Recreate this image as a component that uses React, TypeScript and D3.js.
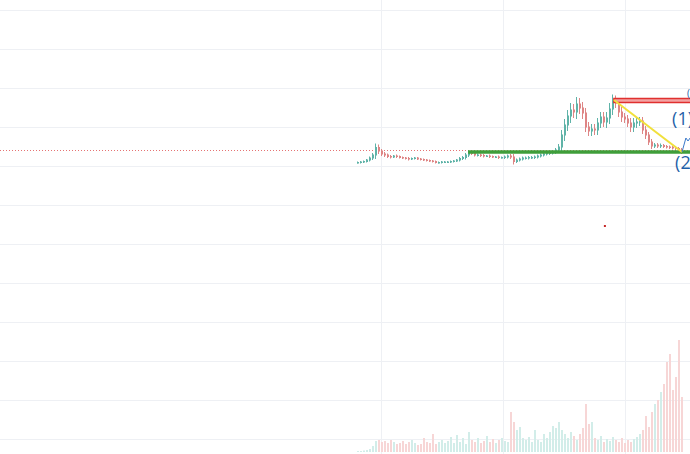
import React, { useEffect, useState } from 'react';
import * as d3 from 'd3';

// bar index -> close price (arbitrary price units)
const closes = [
  276.5, 277, 277.5, 279, 281, 284, 291.5, 288, 285, 284, 282.5, 282, 283, 282.5, 281.5, 281,
  280.5, 280, 280.5, 281, 280, 279.5, 279, 278.5, 278, 277.5, 276.5, 276.5, 277, 277, 277, 277.5,
  278, 279, 280.5, 281.5, 284, 286.5, 285.5, 284, 284, 283.5, 283, 283, 282.5, 282, 282, 281.5,
  281.5, 282, 283, 282, 277.5, 279, 280, 281, 281, 281.5, 281.5, 282, 283, 284, 285, 285.5,
  286, 287, 289, 292, 304, 314, 323, 329, 327, 335, 331, 326, 312, 308, 310, 309,
  316, 322, 317, 321, 330, 338.5, 336, 327, 322, 320, 316, 312, 316, 317, 318, 309,
  304, 297, 293, 294, 293, 293.5, 292.5, 292, 291.5, 291, 290.5, 289, 287,
];

// wick extension beyond the body, per bar
const wicks = [
  1, 1, 1, 1, 1.5, 2, 4, 3, 2, 2, 1.5, 1.5, 1, 1.5, 1, 1,
  1, 1.5, 1, 1, 1, 1, 1, 1, 1, 1, 1, 1, 1, 1, 1, 1,
  1, 1, 1.5, 1.5, 2, 2, 1.5, 1.5, 1.5, 1.5, 1.5, 1, 1.5, 1, 1, 1.5,
  1, 1.5, 1.5, 2, 3, 1.5, 1.5, 1.5, 1.5, 1.5, 1.5, 1.5, 1.5, 1.5, 1.5, 1.5,
  1.5, 1.5, 2, 3, 5, 6, 6, 7, 6, 7, 6, 6, 5, 5, 5, 5,
  5, 5, 5, 6, 6, 6, 5, 5, 5, 4, 4, 5, 5, 5, 4, 4,
  4, 3, 3, 2, 2, 2, 1.5, 1.5, 1.5, 1.5, 1.5, 1.5, 2,
];

const volumes = [
  1, 1, 1.5, 2, 3, 6, 11, 12, 10, 11, 9, 12, 10, 8, 9, 11,
  8, 10, 12, 9, 7, 8, 14, 10, 9, 18, 8, 10, 12, 9, 11, 15,
  9, 17, 10, 14, 8, 20, 12, 10, 14, 9, 11, 16, 10, 13, 9, 12,
  14, 11, 10, 40, 30, 22, 25, 14, 12, 15, 10, 22, 12, 10, 18, 14,
  20, 26, 24, 30, 22, 18, 14, 20, 16, 12, 18, 24, 48, 28, 30, 14,
  12, 16, 10, 13, 11, 15, 12, 10, 14, 9, 12, 10, 13, 15, 18, 22,
  36, 25, 40, 48, 52, 60, 68, 90, 98, 62, 75, 112, 55,
];

const priceTicks = [0, 39, 78, 117, 156, 195, 234, 273, 312, 351, 390, 429];
const timeTicks = [7.7, 48.3, 89];

const lastPrice = 289;
const supportLevel = 287;
const supportStart = 36.7;
const resistTop = 340.5;
const resistBottom = 336.5;
const resistStart = 85.3;
const trendLine = [
  { bar: 85.3, price: 339 },
  { bar: 108, price: 287 },
];
const projection = [
  { bar: 108, price: 287 },
  { bar: 109.3, price: 301 },
  { bar: 110, price: 298 },
  { bar: 110.7, price: 301 },
];
const waveLabels = [
  { text: '(1)', bar: 104.7, price: 314 },
  { text: '(2)', bar: 105.7, price: 270 },
];
const stray = { bar: 82.3, price: 213 };

const W = 690;
const H = 454;

const App: React.FC = () => {
  const [svgRef, setSvgRef] = useState<SVGSVGElement | null>(null);

  useEffect(() => {
    document.body.style.margin = '0';
    if (!svgRef) return;
    const svg = d3.select(svgRef);
    svg.selectAll('*').remove();

    const x = d3.scaleLinear().domain([0, 108]).range([358, 682]);
    const y = d3.scaleLinear().domain([0, 429]).range([439, 10]);
    const yVol = d3.scaleLinear().domain([0, 100]).range([452, 352]);

    svg.append('rect').attr('width', W).attr('height', H).attr('fill', '#ffffff');

    // grid
    svg.append('g')
      .selectAll('line')
      .data(priceTicks)
      .enter()
      .append('line')
      .attr('x1', 0)
      .attr('x2', W)
      .attr('y1', d => y(d) + 0.5)
      .attr('y2', d => y(d) + 0.5)
      .attr('stroke', '#eef0f4')
      .attr('stroke-width', 1);

    svg.append('g')
      .selectAll('line')
      .data(timeTicks)
      .enter()
      .append('line')
      .attr('x1', d => Math.round(x(d)) + 0.5)
      .attr('x2', d => Math.round(x(d)) + 0.5)
      .attr('y1', 0)
      .attr('y2', H)
      .attr('stroke', '#eef0f4')
      .attr('stroke-width', 1);

    const bars = closes.map((c, i) => {
      const open = i === 0 ? c : closes[i - 1];
      return {
        i,
        open,
        close: c,
        high: Math.max(open, c) + wicks[i],
        low: Math.min(open, c) - wicks[i],
        vol: volumes[i],
      };
    });

    const upCol = '#5fb3a8';
    const downCol = '#de8585';

    // volume
    svg.append('g')
      .selectAll('rect')
      .data(bars)
      .enter()
      .append('rect')
      .attr('x', d => x(d.i) - 1)
      .attr('width', 2)
      .attr('y', d => yVol(d.vol))
      .attr('height', d => yVol(0) - yVol(d.vol))
      .attr('fill', d => (d.close >= d.open ? '#d2ede9' : '#f7d6d6'));

    // last price dotted line
    svg.append('line')
      .attr('x1', 0)
      .attr('x2', W)
      .attr('y1', y(lastPrice) + 0.5)
      .attr('y2', y(lastPrice) + 0.5)
      .attr('stroke', '#e57373')
      .attr('stroke-width', 1)
      .attr('stroke-dasharray', '1 2');

    // wicks
    svg.append('g')
      .selectAll('line')
      .data(bars)
      .enter()
      .append('line')
      .attr('x1', d => x(d.i) - 0.5)
      .attr('x2', d => x(d.i) - 0.5)
      .attr('y1', d => y(d.high))
      .attr('y2', d => y(d.low))
      .attr('stroke', d => (d.close >= d.open ? upCol : downCol))
      .attr('stroke-width', 1);

    // candles
    svg.append('g')
      .selectAll('rect')
      .data(bars)
      .enter()
      .append('rect')
      .attr('x', d => x(d.i) - 1)
      .attr('width', 2)
      .attr('y', d => Math.min(y(d.open), y(d.close)) - 0.5)
      .attr('height', d => Math.max(1.5, Math.abs(y(d.open) - y(d.close)) + 1))
      .attr('fill', d => (d.close >= d.open ? upCol : downCol));

    // support line
    svg.append('line')
      .attr('x1', x(supportStart))
      .attr('x2', W)
      .attr('y1', y(supportLevel))
      .attr('y2', y(supportLevel))
      .attr('stroke', '#3f9e3a')
      .attr('stroke-width', 3.5);

    // resistance box
    svg.append('rect')
      .attr('x', x(resistStart))
      .attr('width', W - x(resistStart) + 2)
      .attr('y', y(resistTop))
      .attr('height', y(resistBottom) - y(resistTop))
      .attr('fill', '#f3a3a3')
      .attr('stroke', '#e0302f')
      .attr('stroke-width', 1.5);

    // trend line
    const line = d3.line<{ bar: number; price: number }>()
      .x(d => x(d.bar))
      .y(d => y(d.price));

    svg.append('path')
      .attr('d', line(trendLine) || '')
      .attr('fill', 'none')
      .attr('stroke', '#f1e03c')
      .attr('stroke-width', 2);

    svg.append('path')
      .attr('d', line(projection) || '')
      .attr('fill', 'none')
      .attr('stroke', '#3a78c9')
      .attr('stroke-width', 1);

    // wave labels
    svg.append('g')
      .selectAll('text')
      .data(waveLabels)
      .enter()
      .append('text')
      .attr('x', d => x(d.bar))
      .attr('y', d => y(d.price))
      .attr('font-family', 'Open Sans, sans-serif')
      .attr('font-size', 18)
      .attr('fill', '#1f5fa8')
      .text(d => d.text);

    svg.append('text')
      .attr('x', 687)
      .attr('y', 97)
      .attr('font-family', 'Open Sans, sans-serif')
      .attr('font-size', 10)
      .attr('fill', '#1f5fa8')
      .text('(');

    svg.append('rect')
      .attr('x', x(stray.bar) - 1)
      .attr('y', y(stray.price) - 1)
      .attr('width', 2)
      .attr('height', 2)
      .attr('fill', '#c62828');
  }, [svgRef]);

  return <svg ref={setSvgRef} width={W} height={H} style={{ display: 'block' }} />;
};

export default App;
